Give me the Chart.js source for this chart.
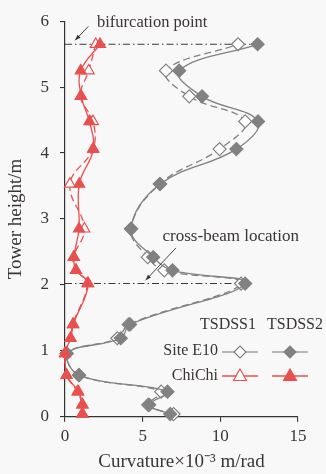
<!DOCTYPE html>
<html>
<head>
<meta charset="utf-8">
<script src="https://cdn.jsdelivr.net/npm/chart.js@4.4.0/dist/chart.umd.min.js"></script>
<style>
  html, body { margin: 0; padding: 0; background: #f8f8f8; }
  #wrap { width: 326px; height: 474px; }
</style>
</head>
<body>
<div id="wrap"><canvas id="curv-chart" width="326" height="474"></canvas></div>
<script>
// tower heights (m) of the measuring points, bottom to top
var heights = [0.04, 0.18, 0.38, 0.63, 0.96, 1.19, 1.40, 2.02, 2.22, 2.42, 2.85, 3.53, 4.06, 4.48, 4.86, 5.25, 5.65];
// curvature x10^-3 m/rad
var e10Tsdss1 = [6.99, 5.35, 6.19, 0.90, 0.10, 3.37, 4.10, 11.33, 6.39, 5.33, 4.24, 6.10, 9.95, 11.60, 8.00, 6.50, 11.14];
var e10Tsdss2 = [6.77, 5.42, 6.60, 0.90, 0.11, 3.59, 4.19, 11.60, 6.92, 5.68, 4.26, 6.13, 11.03, 12.43, 8.82, 7.35, 12.40];
var chichiTsdss1 = [1.10, 1.10, 0.80, 0.10, 0.00, 0.35, 0.50, 1.44, 0.70, 0.55, 1.25, 0.32, 1.80, 1.80, 1.00, 1.53, 1.98];
var chichiTsdss2 = [1.14, 1.14, 0.86, 0.10, 0.00, 0.37, 0.54, 1.50, 0.71, 0.58, 0.90, 0.92, 1.83, 1.57, 1.05, 1.01, 2.26];
// dash-dot marker lines: bifurcation point, cross-beam location
var refHeights = [5.65, 2.02];
var refEnds = [12.4, 11.6];
var xTicks = [0, 5, 10, 15];
var yTicks = [0, 1, 2, 3, 4, 5, 6];

var GRAY = '#818181';
var RED = '#e8504f';
var INK = '#3b3434';
var SERIF = '"Liberation Serif", "Times New Roman", serif';

function pts(xs) {
  return xs.map(function (x, i) { return { x: x, y: heights[i] }; });
}
function refLine(i) {
  return [{ x: 0, y: refHeights[i] }, { x: refEnds[i], y: refHeights[i] }];
}

function series(label, xs, color, style, open, dashed) {
  return {
    label: label,
    data: pts(xs),
    showLine: true,
    borderColor: color,
    borderWidth: 1.3,
    borderDash: dashed ? [7, 4] : [],
    tension: 0.4,
    pointStyle: style,
    pointRadius: style == 'triangle' ? 6.3 : 6.5,
    pointBorderWidth: 1.2,
    pointBorderColor: color,
    pointBackgroundColor: open ? '#ffffff' : color,
    clip: false
  };
}

function ref(i) {
  return {
    label: 'ref' + i,
    data: refLine(i),
    showLine: true,
    borderColor: '#3a3a3a',
    borderWidth: 1.1,
    borderDash: [7, 3, 1.5, 3],
    pointRadius: 0,
    tension: 0,
    clip: false
  };
}

function arrow(ctx, x1, y1, x2, y2) {
  var a = Math.atan2(y2 - y1, x2 - x1);
  ctx.beginPath();
  ctx.moveTo(x1, y1);
  ctx.lineTo(x2, y2);
  ctx.stroke();
  ctx.beginPath();
  ctx.moveTo(x2, y2);
  ctx.lineTo(x2 - 6 * Math.cos(a - 0.35), y2 - 6 * Math.sin(a - 0.35));
  ctx.lineTo(x2 - 6 * Math.cos(a + 0.35), y2 - 6 * Math.sin(a + 0.35));
  ctx.closePath();
  ctx.fill();
}

var notes = {
  id: 'notes',
  afterDatasetsDraw: function (chart) {
    var ctx = chart.ctx, xs = chart.scales.x, ys = chart.scales.y;
    ctx.save();
    ctx.strokeStyle = '#333';
    ctx.fillStyle = '#333';
    ctx.lineWidth = 0.9;
    arrow(ctx, xs.getPixelForValue(1.5), ys.getPixelForValue(5.92), xs.getPixelForValue(0.65), ys.getPixelForValue(5.71));
    arrow(ctx, xs.getPixelForValue(7.14), ys.getPixelForValue(2.56), xs.getPixelForValue(5.19), ys.getPixelForValue(2.07));
    ctx.fillStyle = INK;
    ctx.textBaseline = 'middle';
    ctx.textAlign = 'left';
    ctx.font = '16.5px ' + SERIF;
    ctx.fillText('bifurcation point', xs.getPixelForValue(2.06), ys.getPixelForValue(5.98));
    ctx.font = '17px ' + SERIF;
    ctx.fillText('cross-beam location', xs.getPixelForValue(6.28), ys.getPixelForValue(2.73));
    ctx.restore();
  },
  afterDraw: function (chart) {
    var ctx = chart.ctx;
    ctx.save();
    ctx.font = '16px ' + SERIF;
    ctx.fillStyle = INK;
    ctx.textBaseline = 'middle';
    ctx.textAlign = 'center';
    ctx.fillText('TSDSS1', 228, 325);
    ctx.fillText('TSDSS2', 295, 325);
    ctx.textAlign = 'right';
    ctx.fillText('Site E10', 218, 351);
    ctx.fillText('ChiChi', 218, 376);

    var rows = [
      { y: 352, color: '#a0a0a0', mark: GRAY, shape: 'diamond' },
      { y: 376, color: RED, mark: RED, shape: 'triangle' }
    ];
    rows.forEach(function (r) {
      [[222, 258, true], [272, 308, false]].forEach(function (c) {
        var cx = (c[0] + c[1]) / 2;
        ctx.strokeStyle = r.color;
        ctx.lineWidth = 1.3;
        ctx.beginPath();
        ctx.moveTo(c[0], r.y);
        ctx.lineTo(c[1], r.y);
        ctx.stroke();
        ctx.beginPath();
        if (r.shape == 'diamond') {
          ctx.moveTo(cx - 6, r.y); ctx.lineTo(cx, r.y - 6);
          ctx.lineTo(cx + 6, r.y); ctx.lineTo(cx, r.y + 6);
        } else {
          ctx.moveTo(cx, r.y - 7); ctx.lineTo(cx + 6.5, r.y + 4.5);
          ctx.lineTo(cx - 6.5, r.y + 4.5);
        }
        ctx.closePath();
        ctx.fillStyle = c[2] ? '#ffffff' : r.mark;
        ctx.fill();
        ctx.strokeStyle = r.mark;
        ctx.lineWidth = 1.2;
        ctx.stroke();
      });
    });
    ctx.restore();
  }
};

var bg = {
  id: 'bg',
  beforeDraw: function (chart) {
    var ctx = chart.ctx;
    ctx.save();
    ctx.fillStyle = '#f8f8f8';
    ctx.fillRect(0, 0, chart.width, chart.height);
    ctx.restore();
  }
};

var curvChart = new Chart(document.getElementById('curv-chart'), {
  type: 'scatter',
  data: {
    datasets: [
      series('ChiChi TSDSS2', chichiTsdss2, RED, 'triangle', false, false),
      series('ChiChi TSDSS1', chichiTsdss1, RED, 'triangle', true, true),
      series('Site E10 TSDSS2', e10Tsdss2, GRAY, 'rectRot', false, false),
      series('Site E10 TSDSS1', e10Tsdss1, GRAY, 'rectRot', true, true),
      ref(0),
      ref(1)
    ]
  },
  options: {
    responsive: false,
    animation: false,
    layout: { padding: { left: 0, right: 28, top: 18, bottom: 0 } },
    plugins: {
      legend: { display: false },
      tooltip: { enabled: false }
    },
    scales: {
      x: {
        type: 'linear',
        min: 0,
        max: 15,
        afterBuildTicks: function (s) { s.ticks = xTicks.map(function (v) { return { value: v }; }); },
        afterFit: function (s) { s.height = 57.3; },
        grid: { drawOnChartArea: false, drawTicks: true, tickLength: 5, color: '#333', lineWidth: 1.1 },
        border: { display: true, color: '#333', width: 1.2 },
        ticks: { color: INK, padding: 5, font: { family: SERIF, size: 17 } },
        title: {
          display: true,
          text: 'Curvature×10⁻³ m/rad',
          color: INK,
          padding: { top: 0, bottom: 1 },
          font: { family: SERIF, size: 19 }
        }
      },
      y: {
        type: 'linear',
        min: 0,
        max: 6,
        afterBuildTicks: function (s) { s.ticks = yTicks.map(function (v) { return { value: v }; }); },
        afterFit: function (s) { s.width = 65; },
        grid: { drawOnChartArea: false, drawTicks: true, tickLength: 5, color: '#333', lineWidth: 1.1 },
        border: { display: true, color: '#333', width: 1.2 },
        ticks: { color: INK, padding: 11, font: { family: SERIF, size: 17 } },
        title: {
          display: true,
          text: 'Tower height/m',
          color: INK,
          padding: { top: 5, bottom: 0 },
          font: { family: SERIF, size: 19 }
        }
      }
    }
  },
  plugins: [bg, notes]
});
</script>
</body>
</html>
